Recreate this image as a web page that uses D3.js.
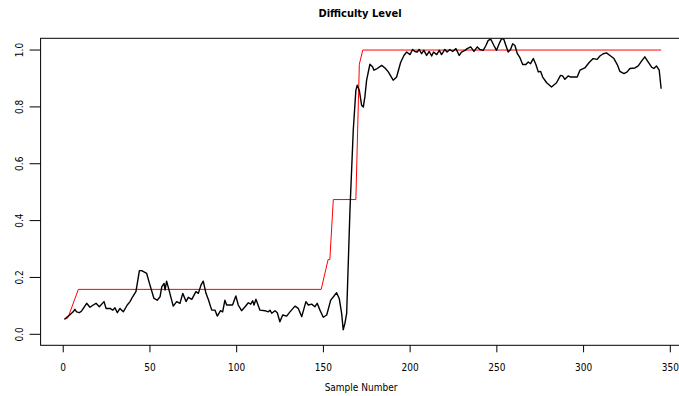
<!DOCTYPE html>
<html>
<head>
<meta charset="utf-8">
<script src="https://cdn.jsdelivr.net/npm/d3@7/dist/d3.min.js"></script>
<style>
  body { margin: 0; background: #fff; }
  svg { display: block; font-family: "DejaVu Sans Condensed", "DejaVu Sans", sans-serif; font-stretch: condensed; }
</style>
</head>
<body>
<div id="chart"></div>
<script>
// target difficulty (red), vertices
const targetX = [1, 3, 9, 149, 153, 154, 156, 169, 171, 173, 345];
const targetY = [0.053, 0.058, 0.158, 0.158, 0.263, 0.263, 0.474, 0.474, 0.95, 1.0, 1.0];

// measured level (black)
const sampleX = [
  1, 4, 6, 7, 8, 9.6, 11, 13.8, 15.7, 17.6, 19.2, 21.1, 23.8, 25, 27.3, 28.8, 30.1, 31.5, 33, 34.9,
  37.2, 38.8, 40.3, 42.2, 44.2, 45.5, 48.4, 50.3, 52.6, 54.5, 56.1, 57.1, 58.4, 59, 59.9, 61.4,
  63.7, 65.7, 67.6, 69.2, 71.1, 72.4, 74.4, 76.8, 78.2, 79.7, 81, 82.6, 83.9, 85.9, 87.8, 89.1,
  91, 92.2, 93.5, 94.5, 96.4, 97.9, 99.8, 101.2, 103.1, 105.1, 107, 108.4, 109.5, 110.3, 111.4,
  113.7, 116.6, 118.5, 119.5, 120.5, 122.4, 123.7, 125.2, 126.8, 129.1, 131, 133.9, 135.8, 137.8,
  140.2, 141.6, 143.5, 145.4, 146.7, 148.3, 150.2, 152.2, 154.5, 157.9, 159.4, 160.8, 161.7, 162.7,
  163.7, 165.6, 167.5, 169, 169.8, 171, 172.3, 173.3, 174.2, 175.2, 177.1, 178.7, 179.4, 181.3,
  183.9, 185.8, 187.7, 190.5, 192.5, 194.8, 196.7, 198.3, 200.2, 201.7, 203, 204.4, 205.5, 206.9,
  208.2, 209.8, 211.3, 212.7, 213.8, 215.6, 217.1, 218.4, 220.3, 221.6, 223.2, 224.8, 226.7, 228.6,
  229.9, 231.9, 233.2, 235.2, 237.1, 239, 240.5, 242.4, 244, 245.3, 246.8, 248.6, 250.1, 251.6,
  253, 254.3, 255.5, 256.8, 258.2, 259.4, 260.7, 262.1, 263.6, 265.2, 267, 268.4, 269.7, 271.3,
  272.8, 274.2, 275.5, 276.7, 279, 281.8, 284.7, 287, 288.2, 289.5, 291.4, 292.8, 294.7, 296.6,
  298.2, 301, 303.5, 305.8, 308.1, 309.7, 311.6, 313.5, 315.5, 317.8, 319.7, 321.2, 323.6, 325.4,
  327, 329.9, 331.8, 333.7, 335.6, 337.5, 339.5, 340.8, 342.3, 343.9, 345
];
const levelY = [
  0.053, 0.068, 0.079, 0.088, 0.079, 0.076, 0.083, 0.109, 0.095, 0.103, 0.109, 0.097, 0.115, 0.091, 0.091, 0.085, 0.093, 0.076, 0.091, 0.079,
  0.103, 0.115, 0.132, 0.150, 0.224, 0.224, 0.214, 0.173, 0.126, 0.120, 0.132, 0.167, 0.179, 0.156, 0.187, 0.153,
  0.099, 0.115, 0.109, 0.144, 0.115, 0.130, 0.123, 0.150, 0.144, 0.173, 0.187, 0.144, 0.123, 0.085, 0.085, 0.064,
  0.083, 0.079, 0.120, 0.103, 0.103, 0.103, 0.135, 0.103, 0.083, 0.097, 0.111, 0.106, 0.118, 0.103, 0.123,
  0.085, 0.083, 0.079, 0.085, 0.074, 0.083, 0.076, 0.044, 0.068, 0.064, 0.079, 0.099, 0.091, 0.062,
  0.115, 0.103, 0.106, 0.097, 0.109, 0.085, 0.060, 0.068, 0.120, 0.146, 0.126, 0.074, 0.016, 0.039,
  0.074, 0.437, 0.718, 0.858, 0.876, 0.858, 0.806, 0.800, 0.835, 0.894, 0.950, 0.940, 0.929, 0.935,
  0.946, 0.937, 0.923, 0.894, 0.905, 0.956, 0.981, 0.993, 0.984, 1.002, 0.995, 0.993, 1.002, 0.987,
  0.999, 0.981, 0.995, 0.979, 0.993, 0.984, 0.999, 0.984, 1.002, 0.993, 1.002, 0.995, 1.005, 0.981,
  0.993, 0.999, 1.005, 1.011, 0.995, 1.011, 1.002, 0.999, 1.016, 1.034, 1.038, 1.016, 0.999, 1.022,
  1.040, 1.038, 1.016, 0.993, 1.002, 1.022, 1.016, 0.987, 0.973, 0.949, 0.949, 0.958, 0.952, 0.970,
  0.949, 0.923, 0.925, 0.905, 0.885, 0.870, 0.885, 0.911, 0.909, 0.897, 0.909, 0.905, 0.905, 0.905,
  0.929, 0.937, 0.956, 0.970, 0.967, 0.979, 0.987, 0.990, 0.981, 0.970, 0.949, 0.925, 0.917, 0.923,
  0.935, 0.937, 0.944, 0.961, 0.976, 0.958, 0.940, 0.935, 0.944, 0.929, 0.864
];

const xTicks = [0, 50, 100, 150, 200, 250, 300, 350];
const yTicks = [0.0, 0.2, 0.4, 0.6, 0.8, 1.0];

const width = 679, height = 396;
const box = { left: 40.6, top: 38.3, right: 685, bottom: 345.3 };

const x = d3.scaleLinear()
  .domain([-12.76, 358.76])
  .range([box.left, box.right]);
const y = d3.scaleLinear()
  .domain([-0.0387, 1.0413])
  .range([box.bottom, box.top]);

const svg = d3.select("#chart").append("svg")
  .attr("width", width)
  .attr("height", height);

svg.append("defs").append("clipPath").attr("id", "plot-clip")
  .append("rect")
  .attr("x", box.left).attr("y", box.top)
  .attr("width", box.right - box.left).attr("height", box.bottom - box.top);

const plot = svg.append("g").attr("clip-path", "url(#plot-clip)");

const line = d3.line()
  .x(d => x(d[0]))
  .y(d => y(d[1]));

plot.append("path")
  .datum(targetX.map((v, i) => [v, targetY[i]]))
  .attr("fill", "none")
  .attr("stroke", "#ff0000")
  .attr("stroke-width", 1)
  .attr("d", line);

plot.append("path")
  .datum(sampleX.map((v, i) => [v, levelY[i]]))
  .attr("fill", "none")
  .attr("stroke", "#000")
  .attr("stroke-width", 1.4)
  .attr("stroke-linejoin", "round")
  .attr("d", line);

// box
svg.append("rect")
  .attr("x", box.left).attr("y", box.top)
  .attr("width", box.right - box.left).attr("height", box.bottom - box.top)
  .attr("fill", "none")
  .attr("stroke", "#000")
  .attr("stroke-width", 1);

// axes
const xAxis = svg.append("g")
  .attr("transform", `translate(0,${box.bottom})`)
  .call(d3.axisBottom(x).tickValues(xTicks).tickSize(7).tickPadding(12).tickFormat(d3.format("d")));
xAxis.select(".domain").remove();

const yAxis = svg.append("g")
  .attr("transform", `translate(${box.left},0)`)
  .call(d3.axisLeft(y).tickValues(yTicks).tickSize(11).tickPadding(0).tickFormat(d3.format(".1f")));
yAxis.select(".domain").remove();
yAxis.selectAll("text")
  .attr("x", null).attr("dy", null)
  .attr("text-anchor", "middle")
  .attr("transform", d => `translate(${20 - box.left},${y(d)}) rotate(-90)`)
  .attr("y", 0)
  .attr("dominant-baseline", "central");
yAxis.selectAll(".tick").attr("transform", "translate(0,0)");
yAxis.selectAll(".tick line").attr("y1", d => y(d)).attr("y2", d => y(d));

svg.selectAll(".tick text").attr("font-size", 10).attr("fill", "#000")
  .attr("font-family", "'DejaVu Sans Condensed', 'DejaVu Sans', sans-serif");

svg.append("text")
  .attr("x", 360).attr("y", 17)
  .attr("text-anchor", "middle")
  .attr("font-weight", "bold")
  .attr("font-size", 11)
  .text("Difficulty Level");

svg.append("text")
  .attr("x", 361).attr("y", 391)
  .attr("text-anchor", "middle")
  .attr("font-size", 10)
  .text("Sample Number");
</script>
</body>
</html>
